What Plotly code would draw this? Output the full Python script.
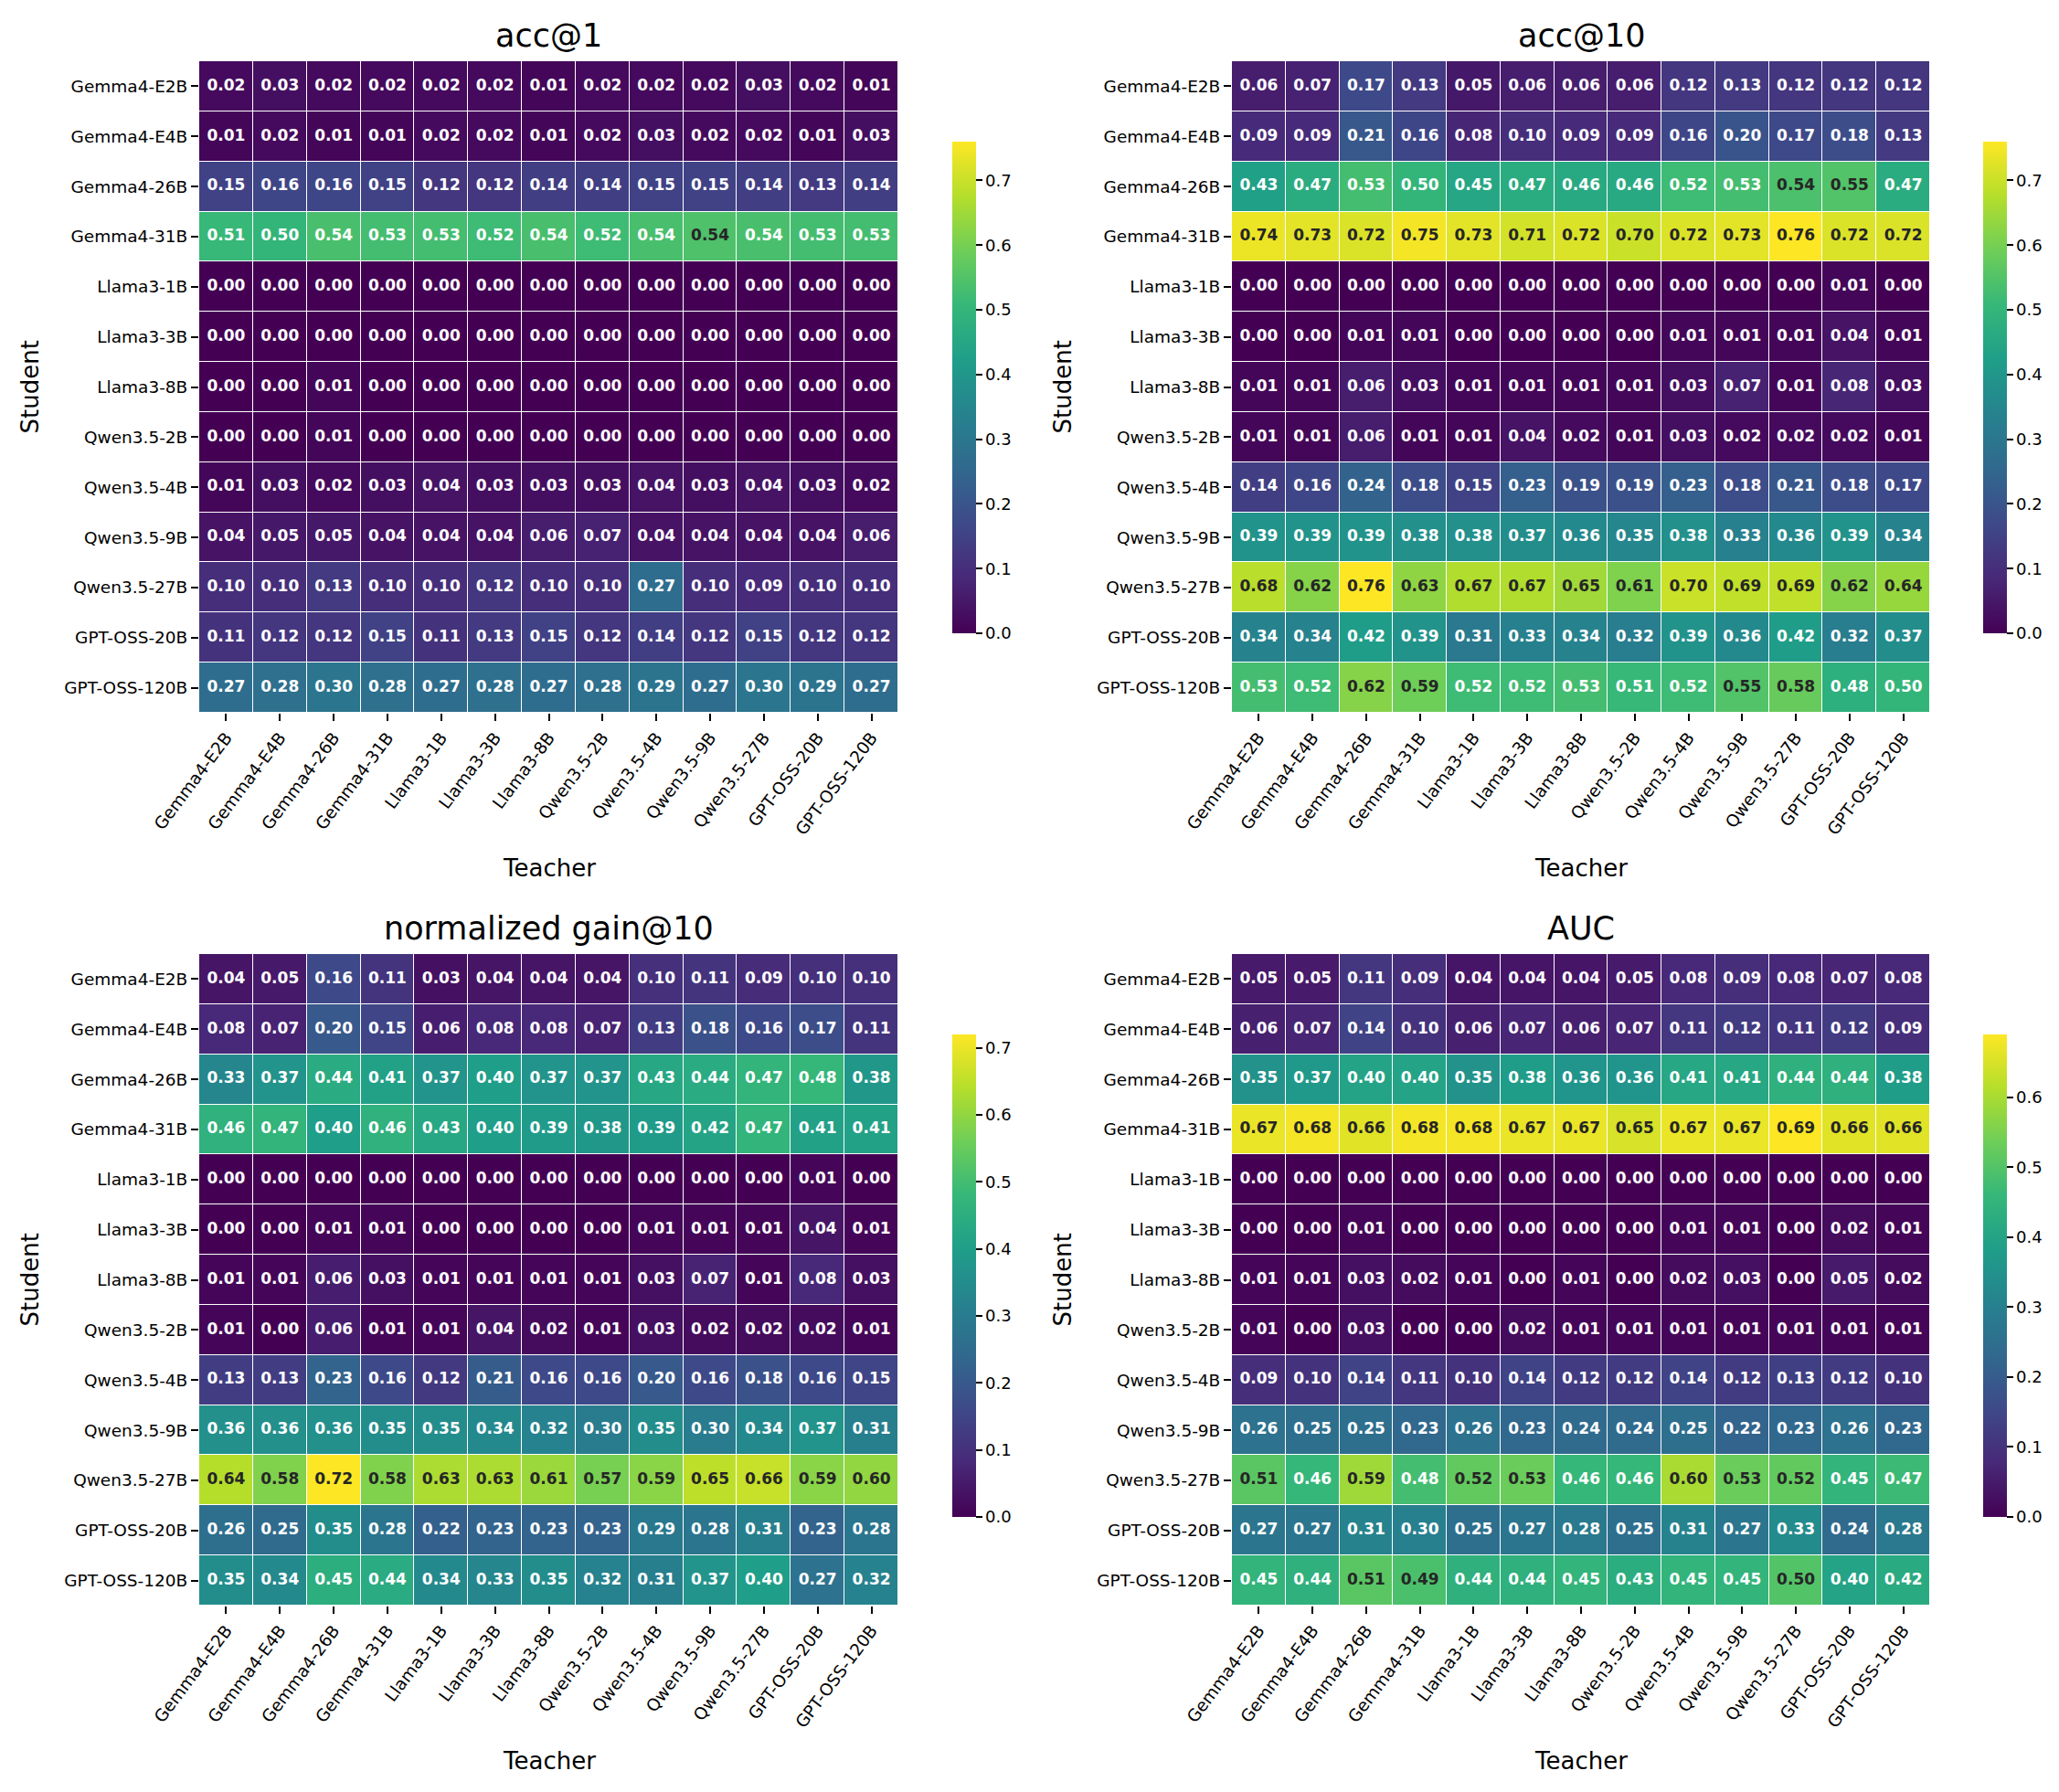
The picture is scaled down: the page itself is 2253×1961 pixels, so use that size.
import plotly.graph_objects as go

models = ["Gemma4-E2B", "Gemma4-E4B", "Gemma4-26B", "Gemma4-31B", "Llama3-1B", "Llama3-3B",
          "Llama3-8B", "Qwen3.5-2B", "Qwen3.5-4B", "Qwen3.5-9B", "Qwen3.5-27B", "GPT-OSS-20B", "GPT-OSS-120B"]
teachers = models
students = models

acc1 = [
    [0.02, 0.03, 0.02, 0.02, 0.02, 0.02, 0.01, 0.02, 0.02, 0.02, 0.03, 0.02, 0.01],
    [0.01, 0.02, 0.01, 0.01, 0.02, 0.02, 0.01, 0.02, 0.03, 0.02, 0.02, 0.01, 0.03],
    [0.15, 0.16, 0.16, 0.15, 0.12, 0.12, 0.14, 0.14, 0.15, 0.15, 0.14, 0.13, 0.14],
    [0.51, 0.50, 0.537, 0.53, 0.53, 0.52, 0.537, 0.52, 0.537, 0.544, 0.537, 0.53, 0.53],
    [0.00, 0.00, 0.00, 0.00, 0.00, 0.00, 0.00, 0.00, 0.00, 0.00, 0.00, 0.00, 0.00],
    [0.00, 0.00, 0.00, 0.00, 0.00, 0.00, 0.00, 0.00, 0.00, 0.00, 0.00, 0.00, 0.00],
    [0.00, 0.00, 0.01, 0.00, 0.00, 0.00, 0.00, 0.00, 0.00, 0.00, 0.00, 0.00, 0.00],
    [0.00, 0.00, 0.01, 0.00, 0.00, 0.00, 0.00, 0.00, 0.00, 0.00, 0.00, 0.00, 0.00],
    [0.01, 0.03, 0.02, 0.03, 0.04, 0.03, 0.03, 0.03, 0.04, 0.03, 0.04, 0.03, 0.02],
    [0.04, 0.05, 0.05, 0.04, 0.04, 0.04, 0.06, 0.07, 0.04, 0.04, 0.04, 0.04, 0.06],
    [0.10, 0.10, 0.13, 0.10, 0.10, 0.12, 0.10, 0.10, 0.27, 0.10, 0.09, 0.10, 0.10],
    [0.11, 0.12, 0.12, 0.15, 0.11, 0.13, 0.15, 0.12, 0.14, 0.12, 0.15, 0.12, 0.12],
    [0.27, 0.28, 0.30, 0.28, 0.27, 0.28, 0.27, 0.28, 0.29, 0.27, 0.30, 0.29, 0.27],
]

acc10 = [
    [0.06, 0.07, 0.17, 0.13, 0.05, 0.06, 0.06, 0.06, 0.12, 0.13, 0.12, 0.12, 0.12],
    [0.09, 0.09, 0.21, 0.16, 0.08, 0.10, 0.09, 0.09, 0.16, 0.20, 0.17, 0.18, 0.13],
    [0.43, 0.47, 0.53, 0.50, 0.45, 0.47, 0.46, 0.46, 0.52, 0.53, 0.54, 0.55, 0.47],
    [0.74, 0.73, 0.72, 0.75, 0.73, 0.71, 0.72, 0.70, 0.72, 0.73, 0.76, 0.72, 0.72],
    [0.00, 0.00, 0.00, 0.00, 0.00, 0.00, 0.00, 0.00, 0.00, 0.00, 0.00, 0.01, 0.00],
    [0.00, 0.00, 0.01, 0.01, 0.00, 0.00, 0.00, 0.00, 0.01, 0.01, 0.01, 0.04, 0.01],
    [0.01, 0.01, 0.06, 0.03, 0.01, 0.01, 0.01, 0.01, 0.03, 0.07, 0.01, 0.08, 0.03],
    [0.01, 0.01, 0.06, 0.01, 0.01, 0.04, 0.02, 0.01, 0.03, 0.02, 0.02, 0.02, 0.01],
    [0.14, 0.16, 0.24, 0.18, 0.15, 0.23, 0.19, 0.19, 0.23, 0.18, 0.21, 0.18, 0.17],
    [0.39, 0.39, 0.39, 0.38, 0.38, 0.37, 0.36, 0.35, 0.38, 0.33, 0.36, 0.39, 0.34],
    [0.68, 0.62, 0.76, 0.63, 0.67, 0.67, 0.65, 0.61, 0.70, 0.69, 0.69, 0.62, 0.64],
    [0.34, 0.34, 0.42, 0.39, 0.31, 0.33, 0.34, 0.32, 0.39, 0.36, 0.42, 0.32, 0.37],
    [0.53, 0.52, 0.62, 0.59, 0.52, 0.52, 0.53, 0.51, 0.52, 0.55, 0.58, 0.48, 0.50],
]

gain10 = [
    [0.04, 0.05, 0.16, 0.11, 0.03, 0.04, 0.04, 0.04, 0.10, 0.11, 0.09, 0.10, 0.10],
    [0.08, 0.07, 0.20, 0.15, 0.06, 0.08, 0.08, 0.07, 0.13, 0.18, 0.16, 0.17, 0.11],
    [0.33, 0.37, 0.44, 0.41, 0.37, 0.40, 0.37, 0.37, 0.43, 0.44, 0.47, 0.48, 0.38],
    [0.46, 0.47, 0.40, 0.46, 0.43, 0.40, 0.39, 0.38, 0.39, 0.42, 0.47, 0.41, 0.41],
    [0.00, 0.00, 0.00, 0.00, 0.00, 0.00, 0.00, 0.00, 0.00, 0.00, 0.00, 0.01, 0.00],
    [0.00, 0.00, 0.01, 0.01, 0.00, 0.00, 0.00, 0.00, 0.01, 0.01, 0.01, 0.04, 0.01],
    [0.01, 0.01, 0.06, 0.03, 0.01, 0.01, 0.01, 0.01, 0.03, 0.07, 0.01, 0.08, 0.03],
    [0.01, 0.00, 0.06, 0.01, 0.01, 0.04, 0.02, 0.01, 0.03, 0.02, 0.02, 0.02, 0.01],
    [0.13, 0.13, 0.23, 0.16, 0.12, 0.21, 0.16, 0.16, 0.20, 0.16, 0.18, 0.16, 0.15],
    [0.36, 0.36, 0.36, 0.35, 0.35, 0.34, 0.32, 0.30, 0.35, 0.30, 0.34, 0.37, 0.31],
    [0.64, 0.58, 0.72, 0.58, 0.63, 0.63, 0.61, 0.57, 0.59, 0.65, 0.66, 0.59, 0.60],
    [0.26, 0.25, 0.35, 0.28, 0.22, 0.23, 0.23, 0.23, 0.29, 0.28, 0.31, 0.23, 0.28],
    [0.35, 0.34, 0.45, 0.44, 0.34, 0.33, 0.35, 0.32, 0.31, 0.37, 0.40, 0.27, 0.32],
]

auc = [
    [0.05, 0.05, 0.11, 0.09, 0.04, 0.04, 0.04, 0.05, 0.08, 0.09, 0.08, 0.07, 0.08],
    [0.06, 0.07, 0.14, 0.10, 0.06, 0.07, 0.06, 0.07, 0.11, 0.12, 0.11, 0.12, 0.09],
    [0.35, 0.37, 0.40, 0.40, 0.35, 0.38, 0.36, 0.36, 0.41, 0.41, 0.44, 0.44, 0.38],
    [0.67, 0.68, 0.66, 0.68, 0.68, 0.67, 0.67, 0.65, 0.67, 0.67, 0.69, 0.66, 0.66],
    [0.00, 0.00, 0.00, 0.00, 0.00, 0.00, 0.00, 0.00, 0.00, 0.00, 0.00, 0.00, 0.00],
    [0.00, 0.00, 0.01, 0.00, 0.00, 0.00, 0.00, 0.00, 0.01, 0.01, 0.00, 0.02, 0.01],
    [0.01, 0.01, 0.03, 0.02, 0.01, 0.00, 0.01, 0.00, 0.02, 0.03, 0.00, 0.05, 0.02],
    [0.01, 0.00, 0.03, 0.00, 0.00, 0.02, 0.01, 0.01, 0.01, 0.01, 0.01, 0.01, 0.01],
    [0.09, 0.10, 0.14, 0.11, 0.10, 0.14, 0.12, 0.12, 0.14, 0.12, 0.13, 0.12, 0.10],
    [0.26, 0.25, 0.25, 0.23, 0.26, 0.23, 0.24, 0.24, 0.25, 0.22, 0.23, 0.26, 0.23],
    [0.51, 0.46, 0.59, 0.48, 0.52, 0.53, 0.46, 0.46, 0.60, 0.53, 0.52, 0.45, 0.47],
    [0.27, 0.27, 0.31, 0.30, 0.25, 0.27, 0.28, 0.25, 0.31, 0.27, 0.33, 0.24, 0.28],
    [0.45, 0.44, 0.51, 0.49, 0.44, 0.44, 0.45, 0.43, 0.45, 0.45, 0.50, 0.40, 0.42],
]

titles = ["acc@1", "acc@10", "normalized gain@10", "AUC"]

W, H = 2253, 1961
FONT = "DejaVu Sans"

acc_max = max(max(r) for r in acc1 + acc10)
panels = [
    dict(z=acc1, zmax=acc_max, title=titles[0], col=0, row=0),
    dict(z=acc10, zmax=acc_max, title=titles[1], col=1, row=0),
    dict(z=gain10, zmax=max(max(r) for r in gain10), title=titles[2], col=0, row=1),
    dict(z=auc, zmax=max(max(r) for r in auc), title=titles[3], col=1, row=1),
]

# pixel layout
hm_x = [(218, 983), (1348, 2112)]
hm_y = [(67, 780), (1044, 1757)]
cb_x = [1032, 2160]
cb_y = [(145, 703), (1122, 1670)]

fig = go.Figure()
annotations = []
layout = dict(
    width=W, height=H, margin=dict(l=0, r=0, t=0, b=0, autoexpand=False),
    paper_bgcolor="white", plot_bgcolor="white", showlegend=False,
    font=dict(family=FONT, color="black"),
)

nT, nS = len(teachers), len(students)

for i, p in enumerate(panels):
    n = i + 1
    xa = "x" if n == 1 else f"x{n}"
    ya = "y" if n == 1 else f"y{n}"
    x0, x1 = hm_x[p["col"]]
    y0, y1 = hm_y[p["row"]]
    cy0, cy1 = cb_y[p["row"]]
    fig.add_trace(go.Heatmap(
        z=p["z"], x=teachers, y=students, xaxis=xa, yaxis=ya,
        colorscale="Viridis", zmin=0, zmax=p["zmax"], xgap=1, ygap=1,
        colorbar=dict(
            x=cb_x[p["col"]] / W, xanchor="left", xref="paper",
            y=1 - (cy0 + cy1) / 2 / H, yanchor="middle", yref="paper",
            len=(cy1 - cy0) / H, lenmode="fraction", thickness=26,
            outlinewidth=0, ticks="outside", ticklen=7, tickwidth=1.5,
            tickcolor="black", dtick=0.1, tick0=0, tickformat=".1f",
            tickfont=dict(size=18, family=FONT, color="black"),
        ),
    ))
    xs, ys, texts, colors = [], [], [], []
    for si, s in enumerate(students):
        for ti, t in enumerate(teachers):
            v = p["z"][si][ti]
            xs.append(t)
            ys.append(s)
            texts.append(f"{v:.2f}")
            colors.append("#262626" if v / p["zmax"] > 0.71 else "white")
    fig.add_trace(go.Scatter(
        x=xs, y=ys, xaxis=xa, yaxis=ya, mode="text", text=texts,
        textfont=dict(size=17, family=FONT, color=colors, weight="bold"),
        hoverinfo="skip",
    ))
    layout["xaxis" if n == 1 else f"xaxis{n}"] = dict(
        domain=[x0 / W, x1 / W], anchor=ya, type="category",
        categoryorder="array", categoryarray=teachers, automargin=False,
        range=[-0.5, nT - 0.5], autorange=False,
        ticks="outside", ticklen=8, tickwidth=1.5, tickcolor="black",
        tickangle=-53, tickfont=dict(size=18.5, family=FONT, color="black"),
        showgrid=False, zeroline=False, showline=False,
    )
    layout["yaxis" if n == 1 else f"yaxis{n}"] = dict(
        domain=[1 - y1 / H, 1 - y0 / H], anchor=xa, type="category",
        categoryorder="array", categoryarray=students,
        range=[nS - 0.5, -0.5], autorange=False, automargin=False,
        ticks="outside", ticklen=8, tickwidth=1.5, tickcolor="black",
        tickfont=dict(size=18.5, family=FONT, color="black"),
        showgrid=False, zeroline=False, showline=False,
    )
    cx = (x0 + x1) / 2
    # panel title
    annotations.append(dict(
        text=p["title"], x=cx / W, y=1 - (y0 - 28) / H, xref="paper", yref="paper",
        xanchor="center", yanchor="middle", showarrow=False,
        font=dict(size=35, family=FONT, color="black"),
    ))
    # x label
    annotations.append(dict(
        text="Teacher", x=cx / W, y=1 - (y1 + 170) / H, xref="paper", yref="paper",
        xanchor="center", yanchor="middle", showarrow=False,
        font=dict(size=26, family=FONT, color="black"),
    ))
    # y label
    annotations.append(dict(
        text="Student", x=(x0 - 186) / W, y=1 - (y0 + y1) / 2 / H, xref="paper", yref="paper",
        xanchor="center", yanchor="middle", showarrow=False, textangle=-90,
        font=dict(size=26, family=FONT, color="black"),
    ))

layout["annotations"] = annotations
fig.update_layout(**layout)
fig.write_html("out.html")
